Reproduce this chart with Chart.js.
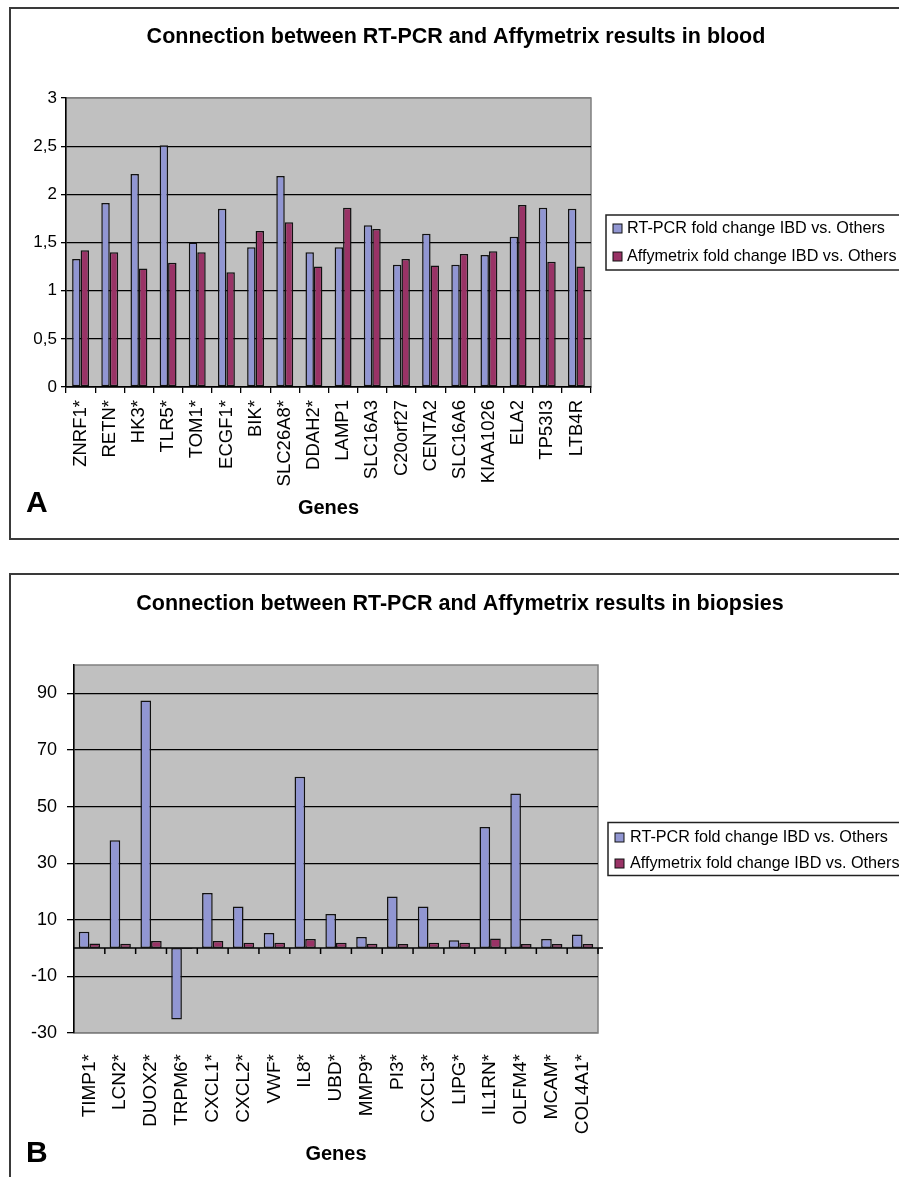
<!DOCTYPE html>
<html>
<head>
<meta charset="utf-8">
<script src="https://cdn.jsdelivr.net/npm/chart.js@4.4.0/dist/chart.umd.min.js"></script>
<style>
  html, body { margin: 0; padding: 0; width: 899px; height: 1177px; overflow: hidden; background: #fff; }
  .panel { position: absolute; left: 9px; width: 940px; border: 2px solid #3a3a3a; box-sizing: border-box; }
  canvas { position: absolute; left: 0; }
  .tag { position: absolute; left: 26px; font: bold 30px "Liberation Sans", Arial, sans-serif; line-height: 30px; color: #000; }
</style>
</head>
<body>
<div class="panel" style="top:7px;height:533px;"></div>
<div class="panel" style="top:573px;height:700px;"></div>
<canvas id="bloodChart" width="912" height="545" style="top:0px;"></canvas>
<canvas id="biopsyChart" width="920" height="617" style="top:560px;"></canvas>
<div class="tag" style="top:487px;">A</div>
<div class="tag" style="top:1137px;">B</div>
<script>
// Blood (panel A)
const genesBlood = ["ZNRF1*", "RETN*", "HK3*", "TLR5*", "TOM1*", "ECGF1*", "BIK*", "SLC26A8*", "DDAH2*",
    "LAMP1", "SLC16A3", "C20orf27", "CENTA2", "SLC16A6", "KIAA1026", "ELA2", "TP53I3", "LTB4R"];
const rtBlood = [1.33, 1.91, 2.21, 2.51, 1.50, 1.85, 1.45, 2.19, 1.40, 1.45, 1.68, 1.27, 1.59, 1.27, 1.37, 1.56, 1.86, 1.85];
const affyBlood = [1.42, 1.40, 1.23, 1.29, 1.40, 1.19, 1.62, 1.71, 1.25, 1.86, 1.64, 1.33, 1.26, 1.38, 1.41, 1.89, 1.30, 1.25];
const yTicksBlood = [0, 0.5, 1, 1.5, 2, 2.5, 3];
const yLabelsBlood = ["0", "0,5", "1", "1,5", "2", "2,5", "3"];

// Biopsies (panel B)
const genesBiopsy = ["TIMP1*", "LCN2*", "DUOX2*", "TRPM6*", "CXCL1*", "CXCL2*", "VWF*", "IL8*", "UBD*",
    "MMP9*", "PI3*", "CXCL3*", "LIPG*", "IL1RN*", "OLFM4*", "MCAM*", "COL4A1*"];
const rtBiopsy = [5.8, 38.1, 87.5, -25.2, 19.5, 14.7, 5.3, 60.5, 12.0, 3.9, 18.2, 14.7, 2.8, 42.8, 54.6, 3.2, 4.8];
const affyBiopsy = [1.6, 1.5, 2.5, -0.3, 2.5, 1.9, 1.9, 3.2, 1.9, 1.5, 1.4, 1.9, 1.9, 3.4, 1.4, 1.4, 1.4];
const yTicksBiopsy = [-30, -10, 10, 30, 50, 70, 90];

const seriesNames = ["RT-PCR fold change IBD vs. Others", "Affymetrix fold change IBD vs. Others"];
const BLUE = "#9196d2";
const PLUM = "#993366";
const FONT = '"Liberation Sans", Arial, sans-serif';

Chart.defaults.font.family = FONT;
Chart.defaults.color = "#000";

// grey plot area with a thin border
const plotBackground = {
    id: "plotBackground",
    beforeDraw(chart) {
        const { ctx, chartArea: a } = chart;
        ctx.save();
        ctx.fillStyle = "#c0c0c0";
        ctx.fillRect(a.left, a.top, a.right - a.left, a.bottom - a.top);
        ctx.strokeStyle = "#808080";
        ctx.lineWidth = 1.5;
        ctx.strokeRect(a.left, a.top, a.right - a.left, a.bottom - a.top);
        ctx.restore();
    }
};

// chart title centred on the whole panel (the built-in one centres on the padded box)
const panelTitle = {
    id: "panelTitle",
    afterDraw(chart, args, opts) {
        const { ctx } = chart;
        ctx.save();
        ctx.font = "bold 21.5px " + FONT;
        ctx.fillStyle = "#000";
        ctx.textAlign = "center";
        ctx.textBaseline = "middle";
        ctx.fillText(opts.text, chart.width / 2, opts.y);
        ctx.restore();
    }
};

// boxed legend to the right of the plot, like the Excel one
const boxLegend = {
    id: "boxLegend",
    afterDraw(chart, args, opts) {
        const { ctx, chartArea: a } = chart;
        const left = a.right + opts.gap;
        const mid = (a.top + a.bottom) / 2;
        const top = mid - opts.height / 2;
        const w = chart.width - left + 10;
        ctx.save();
        ctx.fillStyle = "#fff";
        ctx.fillRect(left, top, w, opts.height);
        ctx.strokeStyle = "#222";
        ctx.lineWidth = 1.5;
        ctx.strokeRect(left, top, w, opts.height);
        ctx.font = opts.fontSize + "px " + FONT;
        ctx.textBaseline = "middle";
        chart.data.datasets.forEach((ds, i) => {
            const y = mid + opts.rowShift + (i - 0.5) * opts.rowGap;
            ctx.fillStyle = ds.backgroundColor;
            ctx.fillRect(left + 7, y - 4.5, 9, 9);
            ctx.strokeStyle = "#111";
            ctx.lineWidth = 1;
            ctx.strokeRect(left + 7, y - 4.5, 9, 9);
            ctx.fillStyle = "#000";
            ctx.fillText(ds.label, left + opts.textOffset, y);
        });
        ctx.restore();
    }
};

// category axis crossing at zero with tick marks between categories
const zeroAxis = {
    id: "zeroAxis",
    beforeDatasetsDraw(chart, args, opts) {
        if (!opts.enabled) return;
        const { ctx, chartArea: a, scales } = chart;
        const y0 = scales.y.getPixelForValue(0);
        ctx.save();
        ctx.strokeStyle = "#000";
        ctx.lineWidth = 1.5;
        ctx.beginPath();
        ctx.moveTo(a.left, y0);
        ctx.lineTo(a.right + 5, y0);
        for (let i = 1; i <= chart.data.labels.length; i++) {
            const x = scales.x.getPixelForValue(i - 0.5);
            ctx.moveTo(x, y0);
            ctx.lineTo(x, y0 + 6);
        }
        ctx.stroke();
        ctx.restore();
    }
};

function createChart(canvasId, cfg) {
    const ctx = document.getElementById(canvasId).getContext("2d");
    return new Chart(ctx, {
        type: "bar",
        data: {
            labels: cfg.labels,
            datasets: [
                { label: seriesNames[0], data: cfg.rt, backgroundColor: BLUE },
                { label: seriesNames[1], data: cfg.affy, backgroundColor: PLUM }
            ]
        },
        options: {
            responsive: false,
            animation: false,
            layout: { padding: cfg.padding },
            datasets: {
                bar: {
                    borderColor: "#111",
                    borderWidth: 1.5,
                    borderSkipped: false,
                    categoryPercentage: cfg.catPct,
                    barPercentage: 1.0
                }
            },
            scales: {
                x: {
                    afterFit: s => { s.height = 137; },
                    grid: cfg.zeroAxis
                        ? { display: false }
                        : { drawOnChartArea: false, color: "#000", lineWidth: 1.3, tickLength: 6 },
                    border: { display: !cfg.zeroAxis, color: "#000", width: 1.5 },
                    ticks: {
                        autoSkip: false,
                        minRotation: 90,
                        maxRotation: 90,
                        padding: cfg.xPad,
                        font: { size: cfg.xFont }
                    },
                    title: {
                        display: true,
                        text: "Genes",
                        font: { size: 20, weight: "bold" },
                        padding: { top: 4, bottom: 4 }
                    }
                },
                y: {
                    min: cfg.yMin,
                    max: cfg.yMax,
                    afterFit: s => { s.width = cfg.yWidth; },
                    afterBuildTicks: s => { s.ticks = cfg.yTicks.map(v => ({ value: v })); },
                    grid: {
                        color: c => {
                            const v = c.tick ? c.tick.value : null;
                            return v === cfg.yMax || (cfg.zeroAxis && v === cfg.yMin) ? "#808080" : "#000";
                        },
                        tickColor: "#000",
                        lineWidth: 1.3,
                        tickLength: cfg.yTickLen
                    },
                    border: { color: "#000", width: 1.5 },
                    ticks: {
                        padding: cfg.yPad,
                        font: { size: cfg.yFont },
                        callback: (v, i) => cfg.yLabels[i]
                    }
                }
            },
            plugins: {
                legend: { display: false },
                tooltip: { enabled: false },
                title: { display: false },
                panelTitle: { text: cfg.title, y: cfg.titleY },
                boxLegend: cfg.legend,
                zeroAxis: { enabled: cfg.zeroAxis }
            }
        },
        plugins: [plotBackground, zeroAxis, boxLegend, panelTitle]
    });
}

createChart("bloodChart", {
    title: "Connection between RT-PCR and Affymetrix results in blood",
    titleY: 37,
    labels: genesBlood,
    rt: rtBlood,
    affy: affyBlood,
    yMin: 0, yMax: 3,
    yTicks: yTicksBlood,
    yLabels: yLabelsBlood,
    padding: { left: 6, right: 321, top: 98, bottom: 21 },
    catPct: 0.58,
    xFont: 18.5, xPad: 7,
    yFont: 17, yPad: 4, yTickLen: 5, yWidth: 60,
    zeroAxis: false,
    legend: { gap: 15, height: 55, rowGap: 28, rowShift: 0, fontSize: 16.2, textOffset: 21 }
});

createChart("biopsyChart", {
    title: "Connection between RT-PCR and Affymetrix results in biopsies",
    titleY: 44,
    labels: genesBiopsy,
    rt: rtBiopsy,
    affy: affyBiopsy,
    yMin: -30, yMax: 100,
    yTicks: yTicksBiopsy,
    yLabels: yTicksBiopsy.map(String),
    padding: { left: 10, right: 322, top: 105, bottom: 7 },
    catPct: 0.69,
    xFont: 19, xPad: 13,
    yFont: 18, yPad: 10, yTickLen: 7, yWidth: 64,
    zeroAxis: true,
    legend: { gap: 10, height: 53, rowGap: 26, rowShift: 1.5, fontSize: 16.2, textOffset: 22 }
});
</script>
</body>
</html>
